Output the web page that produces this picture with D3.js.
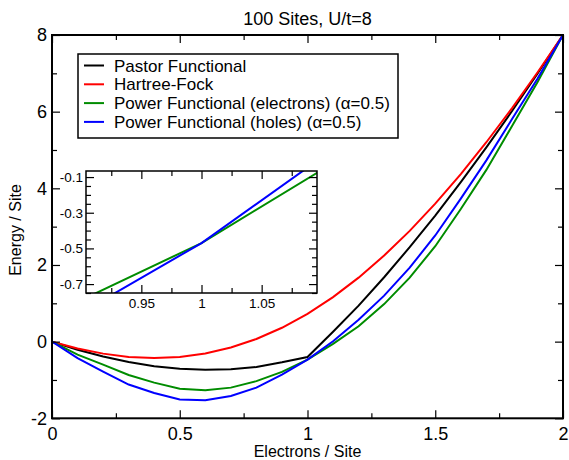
<!DOCTYPE html>
<html>
<head>
<meta charset="utf-8">
<script src="https://cdn.jsdelivr.net/npm/d3@7"></script>
<style>
  body { margin: 0; background: #fff; }
  text { font-family: "Liberation Sans", Arial, Helvetica, sans-serif; fill: #000; }
</style>
</head>
<body>
<div id="container"></div>
<script>
/* DATA */
const electrons = [0, 0.1, 0.2, 0.3, 0.4, 0.5, 0.6, 0.7, 0.8, 0.9, 1.0,
  1.1, 1.2, 1.3, 1.4, 1.5, 1.6, 1.7, 1.8, 1.9, 2.0];
const pastor = [0, -0.21, -0.39, -0.53, -0.64, -0.71, -0.735, -0.72, -0.66, -0.54, -0.40,
  0.26, 0.94, 1.68, 2.465, 3.29, 4.16, 5.07, 6.01, 6.99, 8.0];
const hartreeFock = [0, -0.179, -0.313, -0.398, -0.428, -0.400, -0.310, -0.154, 0.069, 0.362, 0.727,
  1.162, 1.669, 2.246, 2.890, 3.600, 4.372, 5.202, 6.087, 7.021, 8.0];
const powerElectrons = [0, -0.34, -0.60, -0.87, -1.07, -1.23, -1.27, -1.20, -1.03, -0.79, -0.47,
  -0.06, 0.40, 0.98, 1.67, 2.49, 3.46, 4.48, 5.62, 6.77, 8.0];
const powerHoles = [0, -0.43, -0.78, -1.12, -1.34, -1.51, -1.53, -1.42, -1.20, -0.86, -0.47,
  0.01, 0.57, 1.20, 1.93, 2.77, 3.73, 4.73, 5.80, 6.86, 8.0];

const seriesNames = ["Pastor Functional", "Hartree-Fock",
  "Power Functional (electrons) (\u03b1=0.5)", "Power Functional (holes) (\u03b1=0.5)"];
const seriesColors = ["#000000", "#ff0000", "#008c00", "#0000ff"];

const xTicks = [0, 0.5, 1, 1.5, 2];
const xMinorTicks = [0.25, 0.75, 1.25, 1.75];
const yTicks = [-2, 0, 2, 4, 6, 8];
const yMinorTicks = [-1, 1, 3, 5, 7];
const insetXTicks = [0.95, 1, 1.05];
const insetXMinorTicks = [0.925, 0.975, 1.025, 1.075];
const insetYTicks = [-0.7, -0.5, -0.3, -0.1];
const insetYMinorTicks = [-0.75, -0.65, -0.6, -0.55, -0.45, -0.4, -0.35, -0.25, -0.2, -0.15];

/* CONSTANTS AND GLOBALS */
const W = 569, H = 460;
const margin = { top: 35, right: 6, bottom: 41.7, left: 52 };
const width = W - margin.left - margin.right;
const height = H - margin.top - margin.bottom;
const plain = d => String(d); // hyphen minus, like the original

const svg = d3.select('#container')
  .append('svg')
  .attr("width", W)
  .attr("height", H);

const chart = svg.append('g')
  .attr("transform", `translate(${margin.left}, ${margin.top})`);

const series = [pastor, hartreeFock, powerElectrons, powerHoles].map((vals, i) => ({
  name: seriesNames[i],
  color: seriesColors[i],
  values: electrons.map((e, j) => ({ x: e, y: vals[j] }))
}));

// Scales
const xScale = d3.scaleLinear().domain([0, 2]).range([0, width]);
const yScale = d3.scaleLinear().domain([-2, 8]).range([height, 0]);

// clip for the curves
svg.append("defs").append("clipPath").attr("id", "mainClip")
  .append("rect").attr("width", width).attr("height", height);

const line = d3.line()
  .x(d => xScale(d.x))
  .y(d => yScale(d.y));

chart.append("g")
  .attr("clip-path", "url(#mainClip)")
  .selectAll("path")
  .data(series)
  .enter()
  .append("path")
  .attr("d", d => line(d.values))
  .attr("fill", "none")
  .attr("stroke", d => d.color)
  .attr("stroke-width", 2);

// axes helper, ticks point into the plot
function styleAxis(g) {
  g.select(".domain").remove();
  g.selectAll(".tick line").attr("stroke", "#000").attr("stroke-width", 1.2);
  g.selectAll(".tick text").style("font-family", '"Liberation Sans", Arial, sans-serif');
}

// Bottom axis
chart.append("g")
  .attr("transform", `translate(0,${height})`)
  .call(d3.axisBottom(xScale).tickValues(xTicks).tickSizeInner(-8).tickSizeOuter(0)
    .tickPadding(9).tickFormat(plain))
  .call(styleAxis)
  .selectAll("text").attr("font-size", 18);
chart.append("g")
  .attr("transform", `translate(0,${height})`)
  .call(d3.axisBottom(xScale).tickValues(xMinorTicks).tickSizeInner(-5).tickSizeOuter(0).tickFormat(""))
  .call(styleAxis);

// Top axis
chart.append("g")
  .call(d3.axisTop(xScale).tickValues(xTicks).tickSizeInner(-8).tickSizeOuter(0).tickFormat(""))
  .call(styleAxis);
chart.append("g")
  .call(d3.axisTop(xScale).tickValues(xMinorTicks).tickSizeInner(-5).tickSizeOuter(0).tickFormat(""))
  .call(styleAxis);

// Left axis
chart.append("g")
  .call(d3.axisLeft(yScale).tickValues(yTicks).tickSizeInner(-8).tickSizeOuter(0)
    .tickPadding(5).tickFormat(plain))
  .call(styleAxis)
  .selectAll("text").attr("font-size", 18);
chart.append("g")
  .call(d3.axisLeft(yScale).tickValues(yMinorTicks).tickSizeInner(-5).tickSizeOuter(0).tickFormat(""))
  .call(styleAxis);

// Right axis
chart.append("g")
  .attr("transform", `translate(${width},0)`)
  .call(d3.axisRight(yScale).tickValues(yTicks).tickSizeInner(-8).tickSizeOuter(0).tickFormat(""))
  .call(styleAxis);
chart.append("g")
  .attr("transform", `translate(${width},0)`)
  .call(d3.axisRight(yScale).tickValues(yMinorTicks).tickSizeInner(-5).tickSizeOuter(0).tickFormat(""))
  .call(styleAxis);

// Frame
chart.append("rect")
  .attr("width", width)
  .attr("height", height)
  .attr("fill", "none")
  .attr("stroke", "#000")
  .attr("stroke-width", 2);

// Chart title
svg.append("text")
  .attr("x", margin.left + width / 2)
  .attr("y", 25)
  .attr("text-anchor", "middle")
  .attr("font-size", 18)
  .text("100 Sites, U/t=8");

// X-axis label
svg.append("text")
  .attr("x", margin.left + width / 2)
  .attr("y", 457)
  .attr("text-anchor", "middle")
  .attr("font-size", 16)
  .text("Electrons / Site");

// Y-axis label
svg.append("text")
  .attr("transform", "rotate(-90)")
  .attr("x", -230)
  .attr("y", 21)
  .attr("text-anchor", "middle")
  .attr("font-size", 16)
  .text("Energy / Site");

// Legend
const legend = svg.append("g")
  .attr("transform", "translate(78, 54)");

legend.append("rect")
  .attr("width", 320)
  .attr("height", 84)
  .attr("fill", "#fff")
  .attr("stroke", "#000")
  .attr("stroke-width", 1.5);

const rows = legend.selectAll(".row")
  .data(series)
  .enter()
  .append("g")
  .attr("class", "row")
  .attr("transform", (d, i) => `translate(0, ${11.5 + i * 18.8})`);

rows.append("line")
  .attr("x1", 6).attr("x2", 26)
  .attr("stroke", d => d.color)
  .attr("stroke-width", 2);

rows.append("text")
  .attr("x", 36)
  .attr("dy", "0.36em")
  .attr("font-size", 17)
  .text(d => d.name);

// Inset
const inset = { x: 86, y: 171, w: 231, h: 122 };
const insetX = d3.scaleLinear().domain([0.904, 1.096]).range([0, inset.w]);
const insetY = d3.scaleLinear().domain([-0.75, -0.066]).range([inset.h, 0]);

const insetG = svg.append("g")
  .attr("transform", `translate(${inset.x}, ${inset.y})`);

insetG.append("rect")
  .attr("width", inset.w)
  .attr("height", inset.h)
  .attr("fill", "#fff");

svg.select("defs").append("clipPath").attr("id", "insetClip")
  .append("rect").attr("width", inset.w).attr("height", inset.h);

const insetLine = d3.line()
  .x(d => insetX(d.x))
  .y(d => insetY(d.y));

insetG.append("g")
  .attr("clip-path", "url(#insetClip)")
  .selectAll("path")
  .data(series.slice(2))
  .enter()
  .append("path")
  .attr("d", d => insetLine(d.values))
  .attr("fill", "none")
  .attr("stroke", d => d.color)
  .attr("stroke-width", 2);

insetG.append("g")
  .attr("transform", `translate(0,${inset.h})`)
  .call(d3.axisBottom(insetX).tickValues(insetXTicks).tickSizeInner(-8).tickSizeOuter(0)
    .tickPadding(5).tickFormat(plain))
  .call(styleAxis)
  .selectAll("text").attr("font-size", 13.5);
insetG.append("g")
  .attr("transform", `translate(0,${inset.h})`)
  .call(d3.axisBottom(insetX).tickValues(insetXMinorTicks).tickSizeInner(-5).tickSizeOuter(0).tickFormat(""))
  .call(styleAxis);
insetG.append("g")
  .call(d3.axisTop(insetX).tickValues(insetXTicks).tickSizeInner(-8).tickSizeOuter(0).tickFormat(""))
  .call(styleAxis);
insetG.append("g")
  .call(d3.axisTop(insetX).tickValues(insetXMinorTicks).tickSizeInner(-5).tickSizeOuter(0).tickFormat(""))
  .call(styleAxis);
insetG.append("g")
  .call(d3.axisLeft(insetY).tickValues(insetYTicks).tickSizeInner(-8).tickSizeOuter(0)
    .tickPadding(3).tickFormat(plain))
  .call(styleAxis)
  .selectAll("text").attr("font-size", 13.5);
insetG.append("g")
  .call(d3.axisLeft(insetY).tickValues(insetYMinorTicks).tickSizeInner(-5).tickSizeOuter(0).tickFormat(""))
  .call(styleAxis);
insetG.append("g")
  .attr("transform", `translate(${inset.w},0)`)
  .call(d3.axisRight(insetY).tickValues(insetYTicks).tickSizeInner(-8).tickSizeOuter(0).tickFormat(""))
  .call(styleAxis);
insetG.append("g")
  .attr("transform", `translate(${inset.w},0)`)
  .call(d3.axisRight(insetY).tickValues(insetYMinorTicks).tickSizeInner(-5).tickSizeOuter(0).tickFormat(""))
  .call(styleAxis);

insetG.append("rect")
  .attr("width", inset.w)
  .attr("height", inset.h)
  .attr("fill", "none")
  .attr("stroke", "#000")
  .attr("stroke-width", 1.5);
</script>
</body>
</html>
